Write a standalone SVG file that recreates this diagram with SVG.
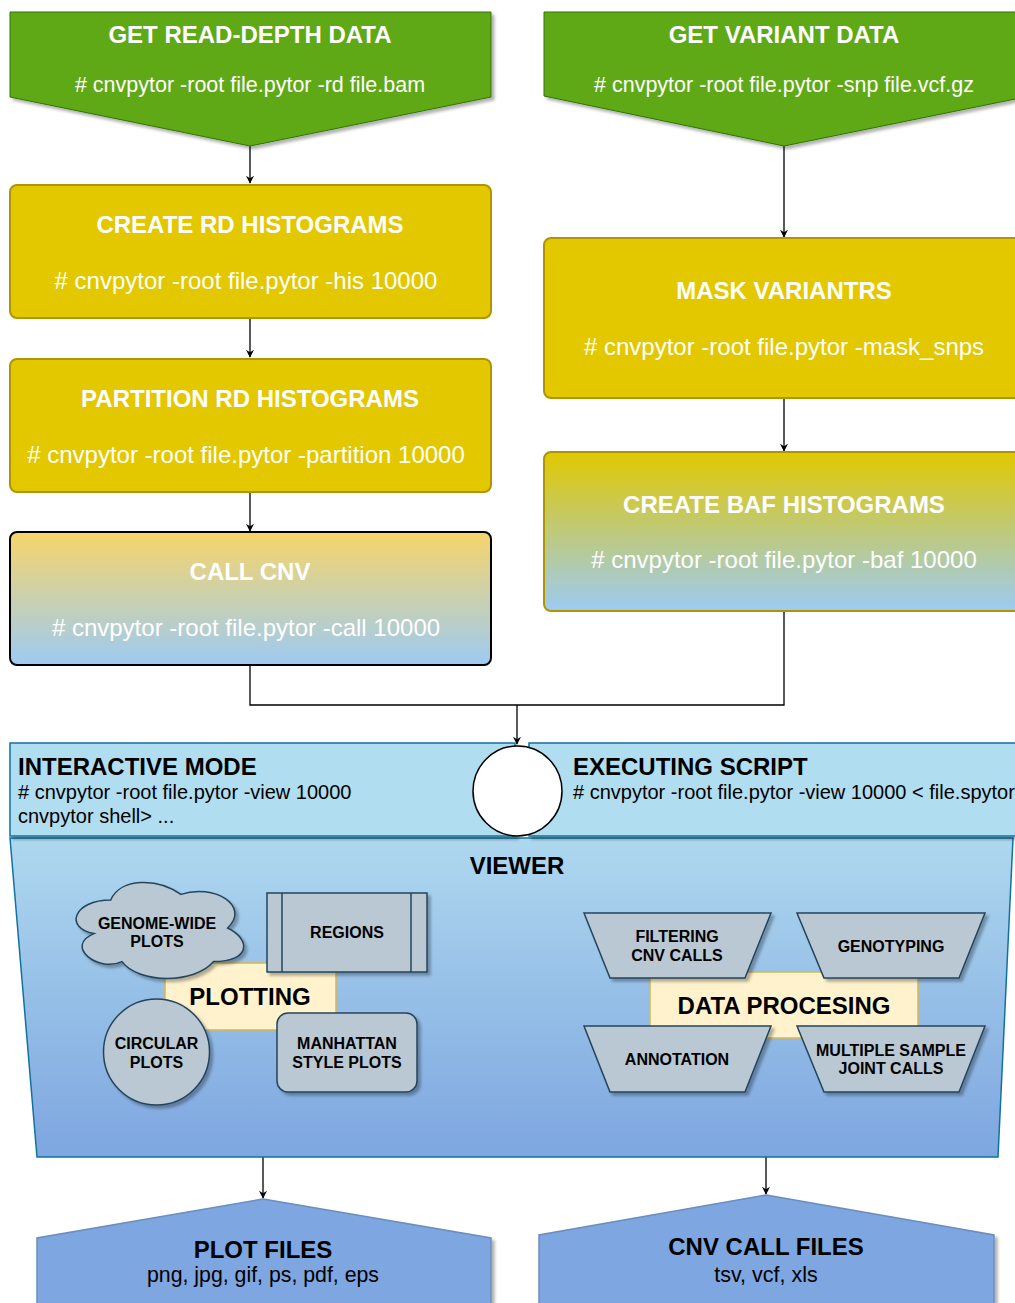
<svg xmlns="http://www.w3.org/2000/svg" width="1015" height="1303" viewBox="0 0 1015 1303">
<defs>
<style>
text{font-family:"Liberation Sans",Arial,sans-serif;}
.w{fill:#ffffff;}
.tb{font-weight:bold;}
.k{fill:#000000;}
.green{fill:#60a917;stroke:#2d7600;stroke-width:1;}
.yel{fill:#e3c800;stroke:#b09500;stroke-width:2;}
.gray{fill:#bac8d3;stroke:#23445d;stroke-width:1.5;}
.note{fill:#fff2cc;stroke:#d6b656;stroke-width:1.5;}
.band{fill:#b1ddf0;stroke:#10739e;stroke-width:1.5;}
.file{fill:#7ea6e0;stroke:#6c8ebf;stroke-width:1.5;}
.conn{fill:none;stroke:#000000;stroke-width:1.3;}
</style>
<linearGradient id="gCall" x1="0" y1="0" x2="0" y2="1">
<stop offset="0" stop-color="#f7d56b"/>
<stop offset="1" stop-color="#9dcbf3"/>
</linearGradient>
<linearGradient id="gBaf" x1="0" y1="0" x2="0" y2="1">
<stop offset="0" stop-color="#e1c800"/>
<stop offset="1" stop-color="#9dcbf3"/>
</linearGradient>
<linearGradient id="gView" x1="0" y1="0" x2="0" y2="1">
<stop offset="0" stop-color="#aed8ef"/>
<stop offset="1" stop-color="#7ea6e0"/>
</linearGradient>
<filter id="sh" x="-10%" y="-10%" width="130%" height="130%">
<feDropShadow dx="3" dy="3" stdDeviation="1.5" flood-color="#000000" flood-opacity="0.3"/>
</filter>
<marker id="arr" viewBox="0 0 10 10" refX="9" refY="5" markerWidth="8" markerHeight="8" markerUnits="userSpaceOnUse" orient="auto">
<path d="M0,0 L10,5 L0,10 L3,5 Z" fill="#000000"/>
</marker>
</defs>
<rect x="0" y="0" width="1015" height="1303" fill="#ffffff"/>

<g id="connectors">
<path class="conn" d="M250,146 L250,183" marker-end="url(#arr)"/>
<path class="conn" d="M784,146 L784,237" marker-end="url(#arr)"/>
<path class="conn" d="M250,318 L250,357" marker-end="url(#arr)"/>
<path class="conn" d="M784,398 L784,451" marker-end="url(#arr)"/>
<path class="conn" d="M250,492 L250,531" marker-end="url(#arr)"/>
<path class="conn" d="M250,665 L250,705 L784,705 L784,611"/>
<path class="conn" d="M517,705 L517,744" marker-end="url(#arr)"/>
<path class="conn" d="M263,1157 L263,1198" marker-end="url(#arr)"/>
<path class="conn" d="M766,1157 L766,1194" marker-end="url(#arr)"/>
</g>

<g id="get-read-depth">
<path class="green" filter="url(#sh)" d="M10,12 L491,12 L491,97 L250,146 L10,97 Z"/>
<text class="w tb" x="250" y="43" font-size="24" text-anchor="middle">GET READ-DEPTH DATA</text>
<text class="w" x="250" y="92" font-size="21.5" text-anchor="middle"># cnvpytor -root file.pytor -rd file.bam</text>
</g>

<g id="get-variant">
<path class="green" filter="url(#sh)" d="M544,12 L1025,12 L1025,97 L784,146 L544,96 Z"/>
<text class="w tb" x="784" y="43" font-size="24" text-anchor="middle">GET VARIANT DATA</text>
<text class="w" x="784" y="92" font-size="21.5" text-anchor="middle"># cnvpytor -root file.pytor -snp file.vcf.gz</text>
</g>

<g id="create-rd">
<rect class="yel" x="10" y="185" width="481" height="133" rx="7"/>
<text class="w tb" x="250" y="233" font-size="24" text-anchor="middle">CREATE RD HISTOGRAMS</text>
<text class="w" x="246" y="289" font-size="24" text-anchor="middle"># cnvpytor -root file.pytor -his 10000</text>
</g>

<g id="partition-rd">
<rect class="yel" x="10" y="359" width="481" height="133" rx="7"/>
<text class="w tb" x="250" y="407" font-size="24" text-anchor="middle">PARTITION RD HISTOGRAMS</text>
<text class="w" x="246" y="463" font-size="24" text-anchor="middle"># cnvpytor -root file.pytor -partition 10000</text>
</g>

<g id="call-cnv">
<rect x="10" y="532" width="481" height="133" rx="7" fill="url(#gCall)" stroke="#000000" stroke-width="2"/>
<text class="w tb" x="250" y="580" font-size="24" text-anchor="middle">CALL CNV</text>
<text class="w" x="246" y="636" font-size="24" text-anchor="middle"># cnvpytor -root file.pytor -call 10000</text>
</g>

<g id="mask-variants">
<rect class="yel" x="544" y="238" width="481" height="160" rx="7"/>
<text class="w tb" x="784" y="299" font-size="24" text-anchor="middle">MASK VARIANTRS</text>
<text class="w" x="784" y="355" font-size="24" text-anchor="middle"># cnvpytor -root file.pytor -mask_snps</text>
</g>

<g id="create-baf">
<rect x="544" y="452" width="481" height="159" rx="7" fill="url(#gBaf)" stroke="#b09500" stroke-width="2"/>
<text class="w tb" x="784" y="513" font-size="24" text-anchor="middle">CREATE BAF HISTOGRAMS</text>
<text class="w" x="784" y="568" font-size="24" text-anchor="middle"># cnvpytor -root file.pytor -baf 10000</text>
</g>

<g id="viewer">
<path d="M10,838 L1013,838 L998,1157 L37,1157 Z" fill="url(#gView)" stroke="#10739e" stroke-width="1.5"/>
<text class="k tb" x="517" y="874" font-size="24" text-anchor="middle">VIEWER</text>
</g>

<g id="interactive-mode">
<rect class="band" x="10" y="743" width="505" height="93" filter="url(#sh)"/>
<text class="k tb" x="18" y="775" font-size="24">INTERACTIVE MODE</text>
<text class="k" x="18" y="799" font-size="20"># cnvpytor -root file.pytor -view 10000</text>
<text class="k" x="18" y="823" font-size="20">cnvpytor shell&gt; ...</text>
</g>

<g id="executing-script">
<rect class="band" x="529" y="743" width="496" height="93" filter="url(#sh)"/>
<text class="k tb" x="573" y="775" font-size="24">EXECUTING SCRIPT</text>
<text class="k" x="573" y="799" font-size="20"># cnvpytor -root file.pytor -view 10000 &lt; file.spytor</text>
</g>

<g id="switch">
<ellipse cx="517.5" cy="791" rx="44.5" ry="45" fill="#ffffff" stroke="#000000" stroke-width="1.5"/>
</g>

<g id="plotting">
<rect class="note" x="165" y="963" width="171" height="67"/>
<text class="k tb" x="250" y="1005" font-size="24" text-anchor="middle">PLOTTING</text>
</g>

<g id="genome-wide">
<path class="gray" filter="url(#sh)" d="M110.75,900 C73.35,900 64,928 93.92,933.6 C64,945.92 97.66,972.8 121.97,961.6 C138.8,984 194.9,984 213.6,961.6 C251,961.6 251,939.2 227.6,928 C251,905.6 213.6,883.2 180.9,894.4 C157.5,877.6 120.1,877.6 110.75,900 Z"/>
<text class="k tb" x="157" y="929" font-size="16" text-anchor="middle">GENOME-WIDE</text>
<text class="k tb" x="157" y="947" font-size="16" text-anchor="middle">PLOTS</text>
</g>

<g id="regions">
<rect class="gray" filter="url(#sh)" x="267" y="893" width="160" height="79"/>
<line x1="282" y1="893" x2="282" y2="972" stroke="#23445d" stroke-width="1.5"/>
<line x1="411" y1="893" x2="411" y2="972" stroke="#23445d" stroke-width="1.5"/>
<text class="k tb" x="347" y="938" font-size="16" text-anchor="middle">REGIONS</text>
</g>

<g id="circular">
<circle class="gray" filter="url(#sh)" cx="156.5" cy="1052" r="53"/>
<text class="k tb" x="156.5" y="1049" font-size="16" text-anchor="middle">CIRCULAR</text>
<text class="k tb" x="156.5" y="1068" font-size="16" text-anchor="middle">PLOTS</text>
</g>

<g id="manhattan">
<rect class="gray" filter="url(#sh)" x="277" y="1013" width="140" height="79" rx="11"/>
<text class="k tb" x="347" y="1049" font-size="16" text-anchor="middle">MANHATTAN</text>
<text class="k tb" x="347" y="1068" font-size="16" text-anchor="middle">STYLE PLOTS</text>
</g>

<g id="data-processing">
<rect class="note" x="650" y="972" width="268" height="66"/>
<text class="k tb" x="784" y="1014" font-size="24" text-anchor="middle">DATA PROCESING</text>
</g>

<g id="filtering">
<path class="gray" filter="url(#sh)" d="M584,913 L771,913 L745,978 L610,978 Z"/>
<text class="k tb" x="677" y="942" font-size="16" text-anchor="middle">FILTERING</text>
<text class="k tb" x="677" y="961" font-size="16" text-anchor="middle">CNV CALLS</text>
</g>

<g id="genotyping">
<path class="gray" filter="url(#sh)" d="M797,913 L985,913 L959,978 L824,978 Z"/>
<text class="k tb" x="891" y="952" font-size="16" text-anchor="middle">GENOTYPING</text>
</g>

<g id="annotation">
<path class="gray" filter="url(#sh)" d="M584,1026 L771,1026 L745,1092 L610,1092 Z"/>
<text class="k tb" x="677" y="1065" font-size="16" text-anchor="middle">ANNOTATION</text>
</g>

<g id="joint-calls">
<path class="gray" filter="url(#sh)" d="M797,1026 L985,1026 L959,1092 L824,1092 Z"/>
<text class="k tb" x="891" y="1056" font-size="16" text-anchor="middle">MULTIPLE SAMPLE</text>
<text class="k tb" x="891" y="1074" font-size="16" text-anchor="middle">JOINT CALLS</text>
</g>

<g id="plot-files">
<path class="file" filter="url(#sh)" d="M263,1199 L491,1238 L491,1310 L37,1310 L37,1238 Z"/>
<text class="k tb" x="263" y="1258" font-size="24" text-anchor="middle">PLOT FILES</text>
<text class="k" x="263" y="1282" font-size="21.3" text-anchor="middle">png, jpg, gif, ps, pdf, eps</text>
</g>

<g id="cnv-call-files">
<path class="file" filter="url(#sh)" d="M766,1195 L994,1235 L994,1310 L539,1310 L539,1235 Z"/>
<text class="k tb" x="766" y="1255" font-size="24" text-anchor="middle">CNV CALL FILES</text>
<text class="k" x="766" y="1282" font-size="21.5" text-anchor="middle">tsv, vcf, xls</text>
</g>
</svg>
